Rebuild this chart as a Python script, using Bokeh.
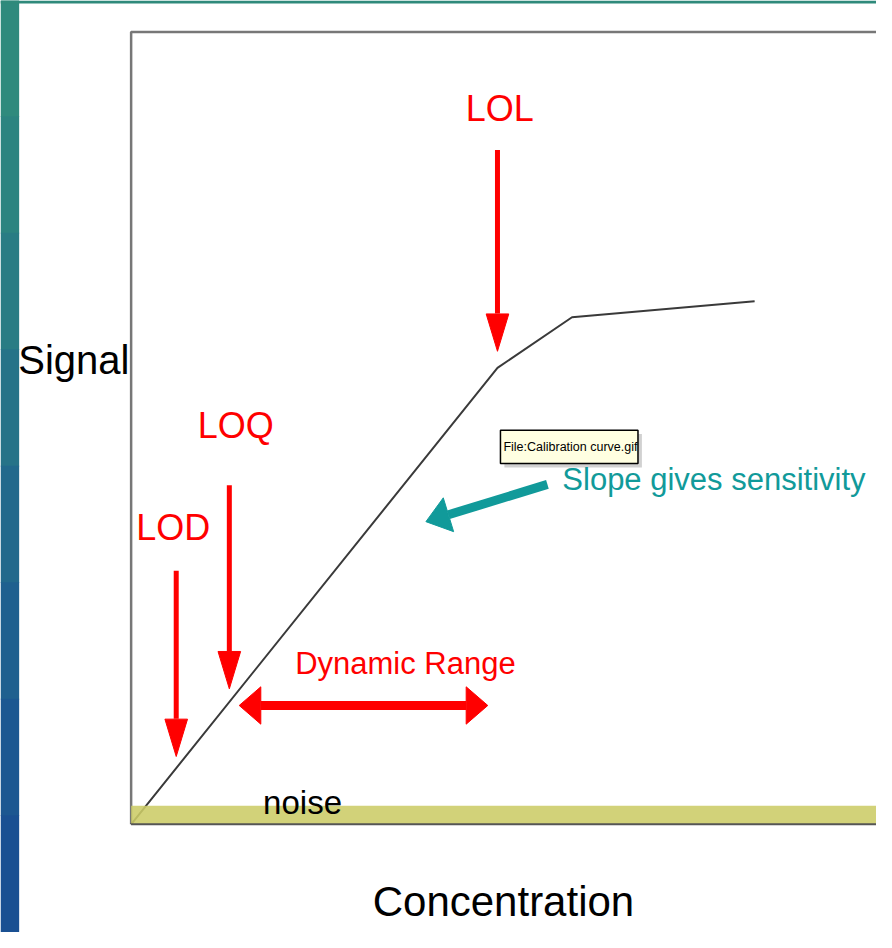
import math
from bokeh.plotting import figure
from bokeh.models import Range1d, Label
from bokeh.embed import file_html
from bokeh.resources import INLINE

# ---------------- data (arbitrary units) ----------------
curve_conc = [0.0, 9.83, 11.83, 16.73]
curve_signal = [0.0, 5.76, 6.40, 6.60]

noise_level = 0.236
box_conc_max = 20.0
box_signal_max = 10.0

marker_names = ["LOD", "LOQ", "LOL"]
marker_conc = [1.21, 2.635, 9.83]
marker_top = [3.20, 4.28, 8.51]
marker_tip = [0.856, 1.71, 5.97]
marker_label_conc = [1.13, 2.81, 9.89]
marker_label_signal = [3.74, 5.03, 9.04]

range_conc = [2.90, 9.57]
range_signal = 1.50
range_label = "Dynamic Range"
range_label_pos = (7.36, 2.03)

slope_tail = (11.17, 4.29)
slope_tip = (7.91, 3.82)
slope_label = "Slope gives sensitivity"
slope_label_pos = (11.57, 4.35)

noise_label = "noise"
noise_label_pos = (4.60, 0.273)

tooltip_text = "File:Calibration curve.gif"
tooltip_box = (9.91, 13.60, 4.553, 4.975)

x_label = "Concentration"
y_label = "Signal"
x_label_pos = (9.99, -0.975)
y_label_pos = (-3.03, 5.86)

strip_colors = ["#2f8a7d", "#2c8480", "#297c84", "#267388", "#22698c", "#1f608f", "#1c5791", "#1a5092"]
top_strip_color = "#2f8a7b"

# ---------------- layout ----------------
W, H = 876, 932
REF_W, REF_H = 892, 948
X0, X1 = -3.505, 20.0
Y0, Y1 = -1.365, 10.397
SXR = REF_W / (X1 - X0)   # reference px per unit
SYR = REF_H / (Y1 - Y0)

FONT = "Liberation Sans"
RED = "#ff0000"
TEAL = "#119a9a"

p = figure(width=W, height=H, x_range=Range1d(X0, X1), y_range=Range1d(Y0, Y1),
           output_backend="svg", toolbar_location=None,
           x_axis_location=None, y_axis_location=None,
           min_border=0, min_border_left=0, min_border_right=0,
           min_border_top=0, min_border_bottom=0)
p.grid.visible = False
p.outline_line_color = None
p.background_fill_color = "white"
p.border_fill_color = "white"

# decorative slide background strips
n = len(strip_colors)
strip_right = X0 + 19 / SXR
seg = (Y1 - Y0) / n
p.quad(left=[X0] * n, right=[strip_right] * n,
       bottom=[Y1 - (i + 1) * seg for i in range(n)],
       top=[Y1 - i * seg + 0.01 for i in range(n)],
       fill_color=strip_colors, line_color=None)
p.quad(left=[X0], right=[X1], bottom=[Y1 - 3 / SYR], top=[Y1],
       fill_color=top_strip_color, line_color=None)

# plot box (left + top edges)
p.line([0, 0, box_conc_max], [0, box_signal_max, box_signal_max],
       line_color="#777777", line_width=2.5)

# calibration curve
p.line(curve_conc, curve_signal, line_color="#3a3a3a", line_width=2)

# noise band
p.quad(left=[0], right=[box_conc_max], bottom=[0], top=[noise_level],
       fill_color="#cccc66", fill_alpha=0.88, line_color=None)
p.line([0, box_conc_max], [0, 0], line_color="#555555", line_width=2)


def head(tip, tail, length, width):
    dxp = (tip[0] - tail[0]) * SXR
    dyp = (tip[1] - tail[1]) * SYR
    d = math.hypot(dxp, dyp)
    ux, uy = dxp / d, dyp / d
    px, py = -uy, ux
    bx, by = -ux * length, -uy * length
    xs = [tip[0], tip[0] + (bx + px * width / 2) / SXR, tip[0] + (bx - px * width / 2) / SXR]
    ys = [tip[1], tip[1] + (by + py * width / 2) / SYR, tip[1] + (by - py * width / 2) / SYR]
    base = (tip[0] + bx / SXR, tip[1] + by / SYR)
    return xs, ys, base


# vertical red arrows
for cx, top, tip in zip(marker_conc, marker_top, marker_tip):
    xs, ys, base = head((cx, tip), (cx, top), 38, 23)
    p.line([cx, base[0]], [top, base[1] + 0.5 / SYR], line_color=RED, line_width=5, line_cap="butt")
    p.patch(xs, ys, fill_color=RED, line_color=RED, line_width=1)

# double-headed dynamic range arrow
left_pt = (range_conc[0], range_signal)
right_pt = (range_conc[1], range_signal)
xs1, ys1, b1 = head(left_pt, right_pt, 22, 38)
xs2, ys2, b2 = head(right_pt, left_pt, 22, 38)
p.line([b1[0], b2[0]], [b1[1], b2[1]], line_color=RED, line_width=9, line_cap="butt")
p.patch(xs1, ys1, fill_color=RED, line_color=RED, line_width=1)
p.patch(xs2, ys2, fill_color=RED, line_color=RED, line_width=1)

# teal slope arrow
xs, ys, b = head(slope_tip, slope_tail, 24, 36)
p.line([slope_tail[0], b[0]], [slope_tail[1], b[1]], line_color=TEAL, line_width=9, line_cap="butt")
p.patch(xs, ys, fill_color=TEAL, line_color=TEAL, line_width=1)

# tooltip box (with shadow)
tl, tr, tb, tt = tooltip_box
p.quad(left=[tl + 4 / SXR], right=[tr + 4 / SXR], bottom=[tb - 4 / SYR], top=[tt - 4 / SYR],
       fill_color="#999999", fill_alpha=0.45, line_color=None)
p.quad(left=[tl], right=[tr], bottom=[tb], top=[tt],
       fill_color="#ffffe1", line_color="black", line_width=1.5)


# texts
def add_label(x, y, text, size, color, align="center", baseline="middle", font=FONT):
    p.add_layout(Label(x=x, y=y, text=text, text_font=font, text_font_size=f"{size}px",
                       text_color=color, text_align=align, text_baseline=baseline))


for name, lx, ly in zip(marker_names, marker_label_conc, marker_label_signal):
    add_label(lx, ly, name, 36, RED)

add_label(range_label_pos[0], range_label_pos[1], range_label, 31, RED)
add_label(slope_label_pos[0], slope_label_pos[1], slope_label, 31, TEAL, align="left")
add_label(noise_label_pos[0], noise_label_pos[1], noise_label, 33, "black")
add_label(tl + 3 / SXR, (tb + tt) / 2, tooltip_text, 12.5, "black", align="left")
add_label(x_label_pos[0], x_label_pos[1], x_label, 42, "black")
add_label(y_label_pos[0], y_label_pos[1], y_label, 40, "black", align="left")

html = file_html(p, INLINE)
open("out.html", "w").write(html)
